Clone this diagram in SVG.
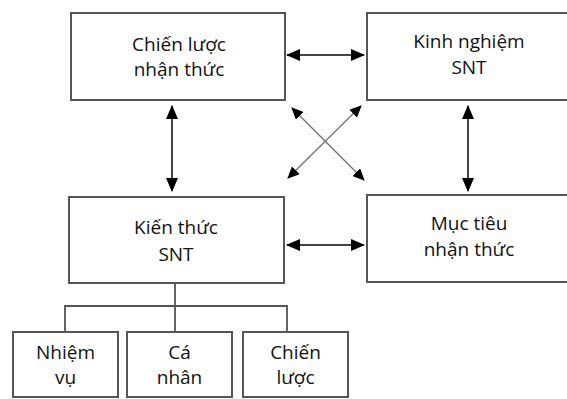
<svg xmlns="http://www.w3.org/2000/svg" width="567" height="399" viewBox="0 0 567 399">
<style>
.box{fill:#fff;stroke:#555;stroke-width:2}
.t{font-family:"Open Sans","Noto Sans",sans-serif;font-size:19px;fill:#111;text-anchor:middle}
.c{fill:none;stroke:#555;stroke-width:1.8}
.a{fill:none;stroke:#444;stroke-width:2;marker-start:url(#ah);marker-end:url(#ah)}
.x{fill:none;stroke:#777;stroke-width:1.4;marker-start:url(#ax);marker-end:url(#ax)}
</style>
<defs>
<marker id="ah" viewBox="0 0 14 12" refX="13" refY="6" markerWidth="14" markerHeight="12" markerUnits="userSpaceOnUse" orient="auto-start-reverse">
<path d="M0,0 L14,6 L0,12 z" fill="#000"/>
</marker>
<marker id="ax" viewBox="0 0 12 11" refX="11" refY="5.5" markerWidth="12" markerHeight="11" markerUnits="userSpaceOnUse" orient="auto-start-reverse">
<path d="M0,0 L12,5.5 L0,11 z" fill="#000"/>
</marker>
</defs>
<rect width="567" height="399" fill="#fff"/>
<g id="chien-luoc-nhan-thuc">
<rect class="box" x="71" y="13" width="214" height="87"/>
<text class="t" x="179" y="51">Chiến lược</text>
<text class="t" x="179" y="76">nhận thức</text>
</g>
<g id="kinh-nghiem-snt">
<rect class="box" x="367" y="13" width="210" height="87"/>
<text class="t" x="469" y="48">Kinh nghiệm</text>
<text class="t" x="469" y="74">SNT</text>
</g>
<g id="kien-thuc-snt">
<rect class="box" x="69" y="197" width="215" height="86"/>
<text class="t" x="176" y="234">Kiến thức</text>
<text class="t" x="176" y="261">SNT</text>
</g>
<g id="muc-tieu-nhan-thuc">
<rect class="box" x="367" y="195" width="210" height="87"/>
<text class="t" x="469" y="230">Mục tiêu</text>
<text class="t" x="469" y="256">nhận thức</text>
</g>
<g id="nhiem-vu">
<rect class="box" x="13" y="332" width="105" height="65"/>
<text class="t" x="65.5" y="359">Nhiệm</text>
<text class="t" x="65.5" y="384">vụ</text>
</g>
<g id="ca-nhan">
<rect class="box" x="127" y="332" width="105" height="65"/>
<text class="t" x="179.5" y="359">Cá</text>
<text class="t" x="179.5" y="384">nhân</text>
</g>
<g id="chien-luoc">
<rect class="box" x="243" y="332" width="105" height="65"/>
<text class="t" x="295.5" y="359">Chiến</text>
<text class="t" x="295.5" y="384">lược</text>
</g>
<g id="connectors">
<line class="a" x1="287" y1="55" x2="364" y2="55"/>
<line class="a" x1="287" y1="245" x2="364" y2="245"/>
<line class="a" x1="172" y1="106" x2="172" y2="191"/>
<line class="a" x1="468" y1="106" x2="468" y2="191"/>
<line class="x" x1="292" y1="108" x2="364" y2="180"/>
<line class="x" x1="361" y1="106" x2="288" y2="178"/>
<line class="c" x1="175" y1="283" x2="175" y2="332"/>
<polyline class="c" points="65,332 65,306 287,306 287,332"/>
</g>
</svg>
